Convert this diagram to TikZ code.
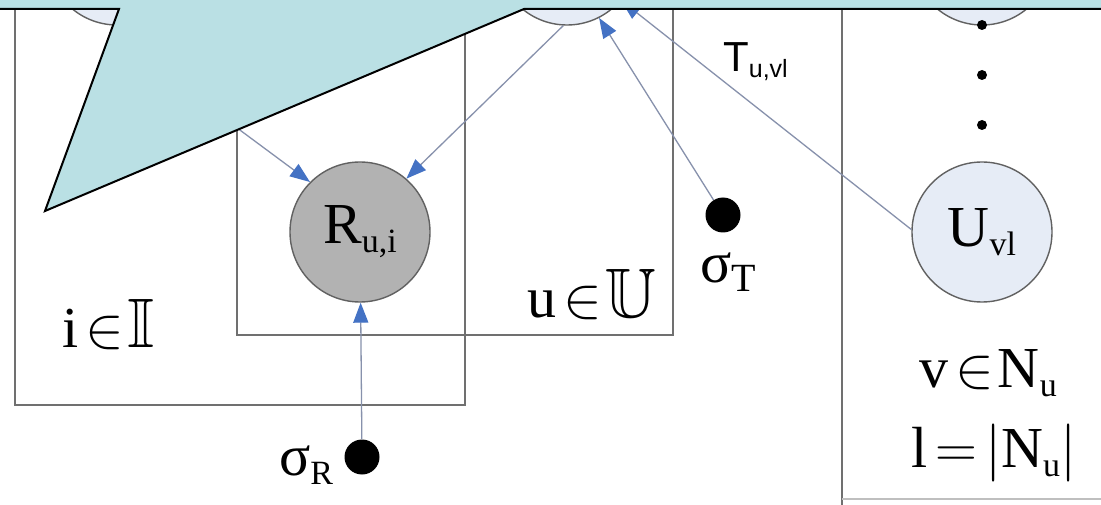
\documentclass[tikz,border=0pt]{standalone}
\usepackage{fix-cm}
\usepackage{amssymb}
\usepackage{fontspec}
\setmainfont{Liberation Serif}
\newfontfamily\arialfont{Liberation Sans}
\usetikzlibrary{arrows.meta}

\definecolor{calloutc}{RGB}{186,224,228}
\definecolor{platec}{RGB}{112,112,112}
\definecolor{edgec}{RGB}{135,145,172}
\definecolor{tipc}{RGB}{68,114,196}
\definecolor{nodeb}{RGB}{230,236,246}
\definecolor{nodeg}{RGB}{178,178,178}

\newcommand{\sbs}[2][34]{\raisebox{-9pt}{\fontsize{#1}{#1}\selectfont #2}}
\newcommand{\elem}{\hspace{7pt}$\mathord{\in}$\hspace{4pt}}
\newcommand{\dbl}[1]{{\fontsize{70}{72}\selectfont$\mathbb{#1}$}}

\begin{document}
\begin{tikzpicture}[x=1pt,y=-1pt,
    var/.style={circle,draw=black!62,line width=1.4pt,minimum size=140pt,inner sep=0pt,
      fill=nodeb,font=\fontsize{58}{60}\selectfont},
    obs/.style={var,fill=nodeg},
    hyper/.style={circle,fill=black,minimum size=35pt,inner sep=0pt},
    dotc/.style={circle,fill=black,minimum size=10pt,inner sep=0pt},
    edge/.style={draw=edgec,line width=1.3pt,-{Triangle[length=20pt,width=15pt,color=tipc]}},
    plate/.style={draw=platec,line width=2.2pt},
    txt/.style={font=\fontsize{58}{60}\selectfont,inner sep=0pt,anchor=base west}]
  \useasboundingbox (0,0) rectangle (1101,505);
  \clip (0,0) rectangle (1101,505);
  \fill[white] (0,0) rectangle (1101,505);

  % plates
  \draw[plate] (15,-40) rectangle (465,405);
  \draw[plate] (237,-40) rectangle (673,335);
  \draw[plate] (842,-40) -- (842,510);
  \draw[platec!45,line width=1.5pt] (842,499) -- (1110,499);

  \node[var] (Vi) at (117,-45) {};
  \node[var] (Uu) at (567,-45) {};
  \node[var] (Uv1) at (982,-45) {};
  \node[obs] (R) at (360,232) {R\sbs{u,i}};
  \node[var] (Uvl) at (982,232) {U\sbs{vl}};
  \node[hyper] (sR) at (362,457) {};
  \node[hyper] (sT) at (723,215) {};
  \foreach \y [count=\k] in {25,75,125}
    \node[dotc] (dot\k) at (982,\y) {};

  \draw[edge,shorten <=30pt] (Vi.-109) -- (R.135);
  \draw[edge] (Uu.-93) -- (R.49);
  \draw[edge] (sT) -- (Uu.-63);
  \draw[edge] (Uvl.178) -- (Uu.-40);
  \draw[edge] (sR) -- (R);

  \node[font=\arialfont\fontsize{42}{44}\selectfont,inner sep=0pt,anchor=base west]
    (Tlab) at (723,72) {T\raisebox{-6pt}{\fontsize{25}{26}\selectfont u,vl}};
  \node[txt] (sigRlab) at (279,475) {σ\sbs{R}};
  \node[txt] (sigTlab) at (700,283) {σ\sbs[40]{T}};
  \node[txt] (Ilab) at (62,347) {i\elem\dbl{I}};
  \node[txt] (Ulab) at (527,317) {u\elem\dbl{U}};
  \node[txt] (Nlab) at (919,387) {v\elem N\sbs{u}};
  \node[txt] (Llab) at (911,467) {l\hspace{8pt}$=$\hspace{8pt}$|$N\sbs{u}$|$};

  % callout over the top
  \filldraw[fill=calloutc,draw=black,line width=2pt]
    (-10,-10) -- (1111,-10) -- (1111,9) -- (524,9) -- (45,211) -- (119,9) -- (-10,9) -- cycle;
\end{tikzpicture}
\end{document}
